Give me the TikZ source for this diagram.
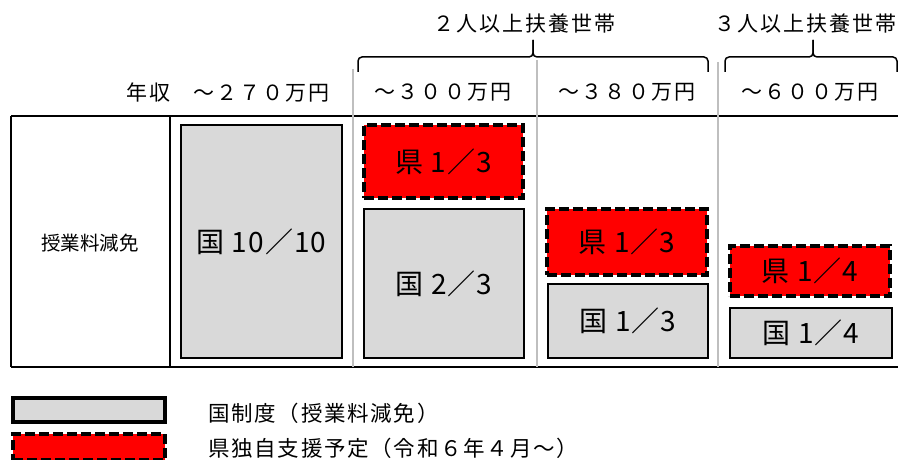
\documentclass[tikz,border=0pt]{standalone}
\usepackage{fontspec}
\setmainfont{Noto Sans CJK JP}
\usepackage{tikz}
\usetikzlibrary{calc,positioning}
\definecolor{kunigray}{HTML}{D9D9D9}
\definecolor{kenred}{HTML}{FF0000}
\definecolor{divgray}{HTML}{BFBFBF}
\tikzset{
    kuni/.style={
    rectangle,draw=black,fill=kunigray,line width=2pt,inner sep=0pt,
    font=\fontsize{28}{32}\selectfont\addfontfeature{LetterSpace=4}
    },
    ken/.style={
    rectangle,draw=black,fill=kenred,line width=4pt,inner sep=0pt,
    dash pattern=on 10pt off 4pt,font=\fontsize{28}{32}\selectfont\addfontfeature{LetterSpace=4}
    },
    header/.style={
    inner sep=0pt,font=\fontsize{21}{24}\selectfont\addfontfeature{LetterSpace=10}
    },
    legendtext/.style={
    anchor=west,inner sep=0pt,font=\fontsize{21.5}{24}\selectfont\addfontfeature{LetterSpace=8}
    },
    tableline/.style={
    line width=2pt,draw=black
    },
    divider/.style={
    line width=1.2pt,draw=divgray
    },
    bracket/.style={
    line width=1.5pt,rounded corners=4pt
    },
}
\begin{document}
\begin{tikzpicture}[x=1pt,y=-1pt]
   \useasboundingbox (0,0) rectangle (898,460);
   % table frame
   \draw[tableline] (11,116) -- (899,116);
   \draw[tableline] (11,367) -- (899,367);
   \draw[tableline] (11,116) -- (11,367);
   \draw[tableline] (170,116) -- (170,367);
   \draw[divider] (353,69) -- (353,367);
   \draw[divider] (537,60) -- (537,367);
   \draw[divider] (718,62) -- (718,367);

   % braces
   \draw[bracket] (358,72) |- (533,57) -- (533,40);
   \draw[bracket] (708,72) |- (533,57) -- (533,40);
   \draw[bracket] (725,72) |- (813,57) -- (813,40);
   \draw[bracket] (897,72) |- (813,57) -- (813,40);
   \node[header,anchor=west] (fuyo2) at (433,24) {２人以上扶養世帯};
   \node[header,anchor=east] (fuyo3) at (897,24) {３人以上扶養世帯};

   % income headers
   \node[header,anchor=east] (nenshu) at (330,92) {年収\hspace{1.1em}～２７０万円};
   \node[header] (col2) at (443,92) {～３００万円};
   \node[header] (col3) at (627,92) {～３８０万円};
   \node[header] (col4) at (810,92) {～６００万円};
   \node[font=\fontsize{19.5}{22}\selectfont] (jugyo) at (90,243) {授業料減免};

   % shares
   \node[kuni,minimum width=161pt,minimum height=233pt] (kuni1) at (261.5,241.5) {国 10／10};
   \node[ken,minimum width=159pt,minimum height=73pt] (ken2) at (443.5,161.5) {県 1／3};
   \node[kuni,minimum width=160pt,minimum height=149pt] (kuni2) at (444,283.5) {国 2／3};
   \node[ken,minimum width=160pt,minimum height=66pt] (ken3) at (627,242) {県 1／3};
   \node[kuni,minimum width=160pt,minimum height=74pt] (kuni3) at (628,321) {国 1／3};
   \node[ken,minimum width=160pt,minimum height=50pt] (ken4) at (810,271) {県 1／4};
   \node[kuni,minimum width=161.5pt,minimum height=50pt] (kuni4) at (811,333) {国 1／4};

   % legend
   \node[kuni,line width=4pt,minimum width=152pt,minimum height=24pt] (legkuni) at (89,410) {};
   \node[ken,minimum width=152pt,minimum height=26pt] (legken) at (89,447) {};
   \node[legendtext] (legkunitxt) at (208,413) {国制度（授業料減免）};
   \node[legendtext] (legkentxt) at (208,448) {県独自支援予定（令和６年４月～）};
\end{tikzpicture}
\end{document}
